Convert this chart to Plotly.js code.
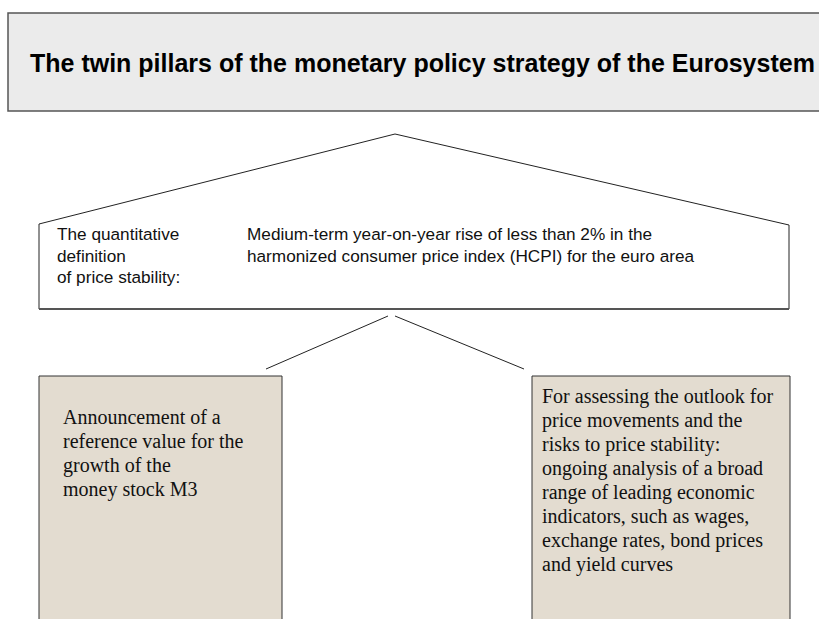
<!DOCTYPE html>
<html>
<head>
<meta charset="utf-8">
<script src="https://cdn.plot.ly/plotly-3.0.1.min.js"></script>
<style>html,body{margin:0;padding:0;background:#fff;}#chart{width:819px;height:619px;}</style>
</head>
<body>
<div id="chart"></div>
<script>
// ---- Text content (data) ----
var titleText = "The twin pillars of the monetary policy strategy of the Eurosystem";
var definitionLabel = ["The quantitative", "definition", "of price stability:"];
var definitionText = ["Medium-term year-on-year rise of less than 2% in the",
                      "harmonized consumer price index (HCPI) for the euro area"];
var pillarOne = ["Announcement of a", "reference value for the", "growth of the", "money stock M3"];
var pillarTwo = ["For assessing the outlook for", "price movements and the",
                 "risks to price stability:", "ongoing analysis of a broad",
                 "range of leading economic", "indicators, such as wages,",
                 "exchange rates, bond prices", "and yield curves"];

// ---- Layout ----
var sans = "Arial, 'Liberation Sans', sans-serif";
var serif = "'Times New Roman', 'Liberation Serif', serif";
var annotations = [];
function addLines(lines, x, y0, dy, font) {
  lines.forEach(function (t, i) {
    annotations.push({x: x, y: y0 + i * dy, xref: 'x', yref: 'y', text: t,
      showarrow: false, xanchor: 'left', yanchor: 'middle', font: font});
  });
}
addLines([titleText], 28, 63, 0, {family: sans, size: 25, color: '#000', weight: 'bold'});
addLines(definitionLabel, 55, 234, 21.5, {family: sans, size: 17.2, color: '#111'});
addLines(definitionText, 245, 234, 21.5, {family: sans, size: 17.2, color: '#111'});
addLines(pillarOne, 61, 417, 24, {family: serif, size: 20, color: '#111'});
addLines(pillarTwo, 540, 396, 24.1, {family: serif, size: 20, color: '#111'});

var shapes = [
  {type: 'rect', xref: 'x', yref: 'y', x0: 8, x1: 840, y0: 13, y1: 111,
   fillcolor: '#ebebeb', line: {color: '#555', width: 1.5}, layer: 'below'},
  {type: 'path', xref: 'x', yref: 'y', path: 'M 39 309 L 39 224 L 395 134 L 789 225 L 789 309',
   fillcolor: 'rgba(0,0,0,0)', line: {color: '#222', width: 1}, layer: 'below'},
  {type: 'line', xref: 'x', yref: 'y', x0: 39, x1: 789, y0: 309, y1: 309,
   line: {color: '#555', width: 2}, layer: 'below'},
  {type: 'line', xref: 'x', yref: 'y', x0: 266, x1: 388, y0: 369, y1: 316,
   line: {color: '#222', width: 1}, layer: 'below'},
  {type: 'line', xref: 'x', yref: 'y', x0: 395, x1: 524, y0: 316, y1: 369,
   line: {color: '#222', width: 1}, layer: 'below'},
  {type: 'rect', xref: 'x', yref: 'y', x0: 39, x1: 282, y0: 376, y1: 640,
   fillcolor: '#e3dcd0', line: {color: '#333', width: 1}, layer: 'below'},
  {type: 'rect', xref: 'x', yref: 'y', x0: 532, x1: 790, y0: 376, y1: 640,
   fillcolor: '#e3dcd0', line: {color: '#333', width: 1}, layer: 'below'}
];

var layout = {
  width: 819, height: 619,
  margin: {l: 0, r: 0, t: 0, b: 0, pad: 0},
  paper_bgcolor: '#fff', plot_bgcolor: '#fff',
  xaxis: {range: [0, 819], visible: false, fixedrange: true},
  yaxis: {range: [619, 0], visible: false, fixedrange: true},
  showlegend: false,
  shapes: shapes,
  annotations: annotations
};
Plotly.newPlot('chart', [], layout, {displayModeBar: false, staticPlot: true});
</script>
</body>
</html>
